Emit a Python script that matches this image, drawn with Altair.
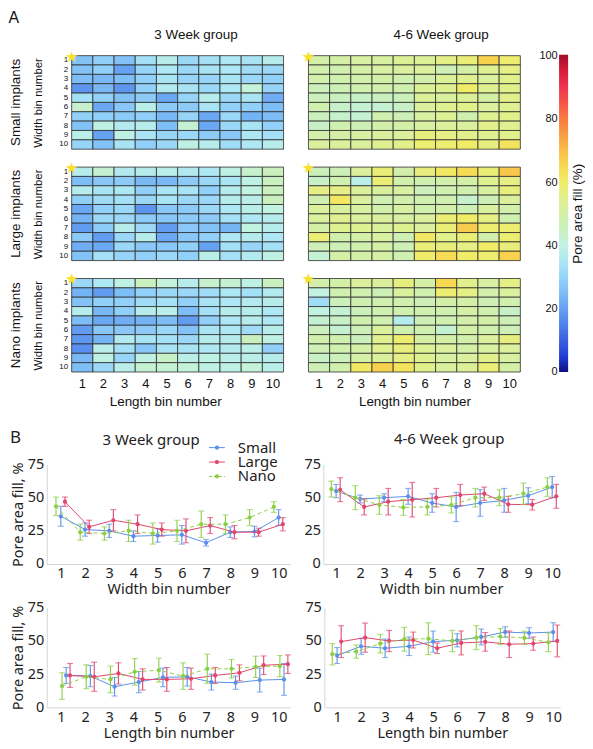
import altair as alt
import pandas as pd

FA = "Liberation Sans"
FB = "Noto Sans"
TXT = "#111111"

BINS = list(range(1, 11))

# ---------------- Panel A: heatmaps (rows = width bin 1..10, cols = length bin 1..10), pore area fill %
small_3wk = [
    [26, 29, 26, 33, 37, 31, 33, 35, 34, 37],
    [26, 29, 20, 30, 35, 31, 34, 35, 32, 31],
    [25, 24, 25, 29, 34, 30, 30, 34, 31, 29],
    [18, 24, 18, 29, 36, 34, 31, 35, 41, 30],
    [33, 29, 26, 28, 21, 30, 37, 31, 34, 22],
    [43, 21, 27, 38, 28, 28, 34, 29, 29, 25],
    [29, 29, 28, 29, 24, 30, 21, 31, 23, 25],
    [26, 39, 36, 37, 25, 42, 21, 31, 34, 29],
    [38, 20, 39, 34, 30, 31, 28, 27, 35, 33],
    [30, 26, 34, 29, 31, 39, 37, 32, 35, 37],
]
small_46wk = [
    [50, 50, 51, 51, 53, 53, 56, 58, 66, 59],
    [49, 48, 50, 51, 52, 52, 47, 50, 54, 56],
    [49, 48, 49, 50, 48, 49, 53, 54, 52, 55],
    [46, 47, 48, 49, 48, 53, 54, 60, 54, 55],
    [46, 45, 44, 45, 46, 53, 52, 53, 50, 55],
    [48, 43, 42, 42, 44, 52, 54, 55, 52, 54],
    [46, 43, 42, 48, 47, 51, 53, 48, 54, 55],
    [44, 48, 47, 49, 50, 51, 52, 52, 55, 54],
    [49, 50, 51, 52, 52, 57, 56, 55, 54, 55],
    [52, 52, 52, 54, 55, 59, 59, 60, 57, 62],
]
large_3wk = [
    [37, 42, 36, 37, 38, 36, 35, 39, 43, 45],
    [25, 27, 28, 24, 24, 28, 31, 34, 39, 45],
    [37, 34, 35, 29, 34, 34, 29, 37, 40, 45],
    [29, 32, 33, 31, 34, 31, 31, 37, 38, 45],
    [21, 29, 31, 18, 27, 28, 31, 35, 38, 40],
    [23, 31, 31, 28, 27, 28, 28, 33, 35, 37],
    [19, 28, 37, 31, 19, 27, 26, 23, 40, 37],
    [28, 19, 31, 37, 21, 27, 29, 35, 37, 35],
    [22, 21, 31, 27, 27, 29, 20, 33, 30, 33],
    [26, 33, 30, 29, 31, 29, 38, 33, 36, 39],
]
large_46wk = [
    [46, 47, 52, 58, 49, 57, 61, 64, 58, 68],
    [44, 48, 38, 58, 49, 48, 49, 50, 54, 56],
    [56, 56, 52, 52, 51, 46, 48, 48, 51, 57],
    [48, 61, 52, 48, 49, 48, 48, 43, 47, 52],
    [52, 52, 51, 49, 51, 48, 49, 47, 52, 49],
    [52, 54, 52, 52, 51, 52, 58, 60, 56, 48],
    [50, 54, 54, 52, 54, 52, 58, 67, 59, 59],
    [58, 49, 50, 51, 47, 61, 55, 58, 49, 59],
    [47, 47, 48, 50, 47, 58, 57, 56, 60, 57],
    [42, 50, 50, 50, 48, 60, 64, 60, 59, 66],
]
nano_3wk = [
    [31, 35, 39, 45, 41, 37, 43, 42, 39, 45],
    [23, 19, 25, 29, 31, 31, 32, 35, 33, 36],
    [26, 29, 29, 32, 33, 29, 34, 35, 36, 37],
    [37, 24, 29, 37, 38, 25, 33, 37, 37, 35],
    [25, 21, 22, 23, 25, 19, 29, 35, 37, 35],
    [19, 27, 27, 28, 31, 26, 34, 35, 32, 37],
    [18, 23, 36, 34, 33, 31, 37, 37, 45, 39],
    [17, 38, 33, 27, 34, 34, 35, 36, 38, 29],
    [24, 39, 30, 39, 44, 38, 39, 38, 38, 37],
    [25, 31, 38, 42, 42, 41, 39, 39, 41, 38],
]
nano_46wk = [
    [49, 50, 52, 52, 57, 50, 65, 55, 51, 56],
    [40, 48, 48, 47, 52, 48, 59, 56, 49, 52],
    [32, 46, 48, 48, 48, 47, 50, 50, 47, 48],
    [40, 42, 46, 48, 48, 48, 48, 50, 48, 44],
    [42, 44, 48, 48, 37, 47, 48, 49, 50, 47],
    [46, 42, 47, 52, 48, 48, 42, 50, 48, 47],
    [49, 48, 46, 54, 59, 50, 50, 49, 52, 57],
    [47, 48, 50, 54, 57, 53, 52, 50, 51, 52],
    [44, 46, 50, 52, 56, 54, 51, 52, 55, 51],
    [47, 48, 61, 66, 62, 55, 52, 53, 58, 50],
]

# colour map (pore area fill %)
stop_values = [0, 5, 10, 15, 20, 25, 30, 35, 40, 45, 50, 55, 60, 65, 70, 75, 80, 85, 90, 95, 100]
stop_colors = ["#10108a", "#2440d8", "#3a62e0", "#5084ea", "#66a2f2", "#7ebef6", "#96d4f8",
               "#aee8f4", "#c2f2e0", "#caf0c0", "#d4f0a6", "#e2f08c", "#f0ec68", "#f8d850",
               "#f8bc48", "#f89a44", "#f87a40", "#f45448", "#ee3450", "#d81c3c", "#a01028"]
cb_ticks = [0, 20, 40, 60, 80, 100]
cb_levels = [i * 0.5 for i in range(200)]

# ---------------- Panel B: mean pore area fill (%) with error bars
wb3 = {
    "Small": ([36, 26, 25, 21, 21.5, 22, 16, 24, 24.5, 35], [7.5, 5, 5, 4, 5, 7, 2.5, 4, 4, 6]),
    "Large": ([47, 28, 33, 30, 26, 25, 29, 24, 24, 30], [3.5, 5, 8, 7, 5, 9, 6, 5, 3, 5]),
    "Nano": ([43.5, 24, 23, 25, 23, 25, 30, 30, 35, 43], [7, 6, 5, 8, 8, 8, 10, 7, 6, 4]),
}
wb46 = {
    "Small": ([55, 49, 50, 51, 46, 43, 46, 48, 51.5, 58], [5, 3, 3, 6, 7, 11, 10, 9, 6, 8]),
    "Large": ([56, 43, 47, 48.5, 50, 52, 53, 45, 44.7, 51], [9, 6, 10, 13, 7, 8, 5, 6, 4, 9]),
    "Nano": ([56.5, 50, 44.5, 42.7, 43, 44.5, 50, 50, 53, 58], [6, 9, 7, 6, 6, 6, 7, 6, 8, 7]),
}
lb3 = {
    "Small": ([24, 23.5, 15.5, 19, 22.5, 23, 19, 18.5, 20.5, 21], [6, 8, 7, 8, 7, 7, 6, 5, 9, 12]),
    "Large": ([24, 23, 25.5, 21, 21, 21.5, 24, 26, 31.7, 32.5], [9, 11, 8, 8, 9, 8, 6, 6, 7, 7]),
    "Nano": ([16, 23, 21, 26.7, 28, 23.5, 29, 29, 30.5, 31], [10, 9, 10, 10, 9, 10, 11, 7, 8, 8]),
}
lb46 = {
    "Small": ([39, 46, 44.5, 46, 49.5, 50.5, 53, 56.7, 56, 56.7], [6, 6, 7, 7, 8, 5, 6, 4, 4, 7]),
    "Large": ([49.5, 52.5, 50, 50.7, 44.5, 48.5, 49.3, 47.5, 48, 50], [12, 11, 8, 6, 4, 9, 7, 10, 5, 12]),
    "Nano": ([40, 42, 48, 51.3, 51.7, 50, 52.5, 53.3, 52.3, 49], [8, 5, 7, 9, 12, 8, 9, 6, 5, 7]),
}
series_names = ["Small", "Large", "Nano"]
series_colors = {"Small": "#5b8fe8", "Large": "#e0466e", "Nano": "#8ccf45"}

# ---------------------------------------------------------------------------
color_scale = alt.Scale(domain=stop_values, range=stop_colors, interpolate="rgb", clamp=True)
HM_W, HM_H = 213, 94
LEFT_PAD = 25  # empty room at the left of the left-column heatmaps (aligns panel B's plots)


def to_long(grid):
    rows = []
    for wi, row in enumerate(grid):
        for li, v in enumerate(row):
            rows.append({"wid": BINS[wi], "len": BINS[li], "val": v})
    return pd.DataFrame(rows)


def heatmap(grid, left, bottom, row_title=None):
    df = to_long(grid)
    pad = LEFT_PAD if left else 0
    width = HM_W + pad
    step = HM_W / 10.0
    outer = (width / step - 10.0) / 2.0
    if bottom:
        xaxis = alt.Axis(title="Length bin number", labelAngle=0, labelFontSize=13, titleFontSize=13.5,
                         labelPadding=6, titlePadding=4, ticks=False, domain=False, labelFont=FA,
                         titleFont=FA, titleFontWeight="normal", labelColor=TXT, titleColor=TXT)
    else:
        xaxis = None
    if left:
        yaxis = alt.Axis(title="Width bin number", labelFontSize=8, titleFontSize=11.5, labelPadding=4,
                         titlePadding=15, ticks=False, domain=False, labelFont=FA, titleFont=FA,
                         titleFontWeight="normal", labelColor=TXT, titleColor=TXT, offset=-pad)
    else:
        yaxis = None
    xscale = alt.Scale(paddingInner=0, paddingOuter=outer, align=1) if left else \
        alt.Scale(paddingInner=0, paddingOuter=0)
    rect = alt.Chart(df).mark_rect(stroke="#2e2e2e", strokeWidth=0.8).encode(
        x=alt.X("len:O", axis=xaxis, scale=xscale),
        y=alt.Y("wid:O", axis=yaxis, scale=alt.Scale(paddingInner=0, paddingOuter=0)),
        color=alt.Color("val:Q", scale=color_scale, legend=None),
    )
    star = alt.Chart(pd.DataFrame({"s": ["\u2605"]})).mark_text(
        color="#f7e12a", fontSize=15, font="DejaVu Sans", baseline="middle", align="center"
    ).encode(text="s:N", x=alt.value(pad), y=alt.value(1))
    ch = alt.layer(rect, star).properties(width=width, height=HM_H)
    if row_title:
        ch = ch.properties(title=alt.TitleParams(row_title, orient="left", fontSize=13.5, font=FA,
                                                 fontWeight="normal", offset=11, color=TXT))
    return ch


col_title = dict(fontSize=13.5, font=FA, fontWeight="normal", offset=8, color=TXT,
                 anchor="middle", frame="bounds")
left_col = alt.vconcat(
    heatmap(small_3wk, True, False, "Small implants"),
    heatmap(large_3wk, True, False, "Large implants"),
    heatmap(nano_3wk, True, True, "Nano implants"),
    spacing=11,
    title=alt.TitleParams("3 Week group", dx=50, **col_title),
)
right_col = alt.vconcat(
    heatmap(small_46wk, False, False),
    heatmap(large_46wk, False, False),
    heatmap(nano_46wk, False, True),
    spacing=11,
    title=alt.TitleParams("4-6 Week group", dx=30, **col_title),
)

cb_df = pd.DataFrame({"val": cb_levels})
cb_bar = alt.Chart(cb_df).transform_calculate(top="datum.val + 0.8").mark_rect().encode(
    x=alt.value(0), x2=alt.value(9),
    y=alt.Y("val:Q", scale=alt.Scale(domain=[0, 100], nice=False, zero=False),
            axis=alt.Axis(values=cb_ticks, title=None, labelFontSize=11, labelPadding=2, ticks=False,
                          domain=False, grid=False, labelFont=FA, labelColor=TXT)),
    y2="top:Q",
    color=alt.Color("val:Q", scale=color_scale, legend=None),
)
cb_label = alt.Chart(pd.DataFrame({"t": ["Pore area fill (%)"]})).mark_text(
    angle=270, fontSize=13.5, font=FA, color=TXT, align="center", baseline="middle"
).encode(text="t:N", x=alt.value(19), y=alt.value(159))
colorbar = alt.layer(cb_bar, cb_label).properties(width=9, height=318)

panelA = alt.hconcat(left_col, right_col, colorbar, spacing=17,
                     title=alt.TitleParams("A", anchor="start", fontSize=16, font=FA,
                                           fontWeight="normal", offset=2, color=TXT))


# ---------------------------------------------------------------------------
def line_panel(data, offsets, xdomain, xtitle, width, left, top_title=None, legend=False, xtpad=2):
    rows = []
    for name in series_names:
        vals, errs = data[name]
        for b, v, e in zip(BINS, vals, errs):
            rows.append({"series": name, "bin": b, "val": v, "err": e})
    df = pd.DataFrame(rows)
    xs = alt.Scale(domain=xdomain, nice=False, zero=False)
    ys = alt.Scale(domain=[0, 75], nice=False, zero=True)
    xaxis = alt.Axis(title=xtitle, values=BINS, format="d", labelFontSize=14.5, titleFontSize=14.5,
                     ticks=False, domainColor="#d6d6d6", grid=False, labelPadding=3, titlePadding=xtpad,
                     labelFont=FB, titleFont=FB, titleFontWeight="normal", labelColor="#222",
                     titleColor="#222")
    yaxis = alt.Axis(title="Pore area fill, %" if left else None, values=[0, 25, 50, 75],
                     labelFontSize=14.5, titleFontSize=14.5, ticks=False, domainColor="#d6d6d6",
                     grid=False, labelPadding=3, titlePadding=2, labelFont=FB, titleFont=FB,
                     titleFontWeight="normal", labelColor="#222", titleColor="#222")
    layers = []
    for name in series_names:
        color = series_colors[name]
        base = alt.Chart(df).transform_filter(alt.datum.series == name).transform_calculate(
            pos=f"datum.bin + ({offsets[name]})", lo="datum.val - datum.err", hi="datum.val + datum.err")
        X = alt.X("pos:Q", scale=xs, axis=xaxis)
        line_kw = dict(color=color, strokeWidth=1)
        if name == "Nano":
            line_kw["strokeDash"] = [4, 3]
        layers.append(base.mark_line(**line_kw).encode(x=X, y=alt.Y("val:Q", scale=ys, axis=yaxis)))
        layers.append(base.mark_rule(color=color, strokeWidth=1.1).encode(
            x=X, y=alt.Y("lo:Q", scale=ys, axis=yaxis), y2="hi:Q"))
        layers.append(base.mark_tick(color=color, thickness=1.1, size=6, orient="horizontal").encode(
            x=X, y=alt.Y("lo:Q", scale=ys, axis=yaxis)))
        layers.append(base.mark_tick(color=color, thickness=1.1, size=6, orient="horizontal").encode(
            x=X, y=alt.Y("hi:Q", scale=ys, axis=yaxis)))
        layers.append(base.mark_point(filled=True, size=18, opacity=1, color=color).encode(
            x=X, y=alt.Y("val:Q", scale=ys, axis=yaxis)))
    if legend:
        for i, name in enumerate(series_names):
            color = series_colors[name]
            yp = -17 + 14.5 * i
            one = alt.Chart(pd.DataFrame({"series": [name]}))
            rk = dict(color=color, strokeWidth=1)
            if name == "Nano":
                rk["strokeDash"] = [3, 2]
            layers.append(one.mark_rule(**rk).encode(x=alt.value(163), x2=alt.value(179), y=alt.value(yp)))
            layers.append(one.mark_point(filled=True, size=18, opacity=1, color=color).encode(
                x=alt.value(171), y=alt.value(yp)))
            layers.append(one.mark_text(align="left", baseline="middle", fontSize=15, font=FB,
                                        color="#222").encode(text="series:N", x=alt.value(192),
                                                             y=alt.value(yp)))
    if top_title == "left":
        txt = alt.Chart(pd.DataFrame({"t": ["3 Week group"], "b": ["B"]}))
        layers.append(txt.mark_text(align="left", baseline="middle", fontSize=15, font=FB,
                                    color="#222").encode(text="t:N", x=alt.value(56), y=alt.value(-25)))
        layers.append(txt.mark_text(align="left", baseline="middle", fontSize=17, font=FB,
                                    color="#222").encode(text="b:N", x=alt.value(-37), y=alt.value(-27)))
        # invisible spacer that keeps the gap between panel A and panel B
        layers.append(txt.mark_rule(strokeOpacity=0, color="white").encode(
            x=alt.value(0), y=alt.value(-52), y2=alt.value(-44)))
    ch = alt.layer(*layers).properties(width=width, height=100)
    if top_title == "right":
        ch = ch.properties(title=alt.TitleParams("4-6 Week group", fontSize=15, font=FB, fontWeight="normal",
                                                 offset=10, dx=8, color="#222"))
    return ch


off_a = {"Nano": -0.2, "Small": 0.0, "Large": 0.17}
off_b = {"Nano": 0.05, "Small": 0.22, "Large": 0.38}
dom_l = [0.42, 10.49]
dom_r = [0.47, 10.29]

tl = line_panel(wb3, off_a, dom_l, "Width bin number", 245, True, top_title="left", legend=True, xtpad=2)
tr = line_panel(wb46, off_a, dom_r, "Width bin number", 237, False, top_title="right", xtpad=2)
bl = line_panel(lb3, off_b, dom_l, "Length bin number", 245, True, xtpad=3)
br = line_panel(lb46, off_a, dom_r, "Length bin number", 237, False, xtpad=3)

rowB1 = alt.hconcat(tl, tr, spacing=13)
rowB2 = alt.hconcat(bl, br, spacing=13)

chart = alt.concat(panelA, rowB1, rowB2, columns=1, spacing=4, align="none", center=False).properties(
    padding=0, background="white"
).configure_view(strokeWidth=0)

chart.save("out.html", embed_options={"renderer": "svg", "actions": False})
